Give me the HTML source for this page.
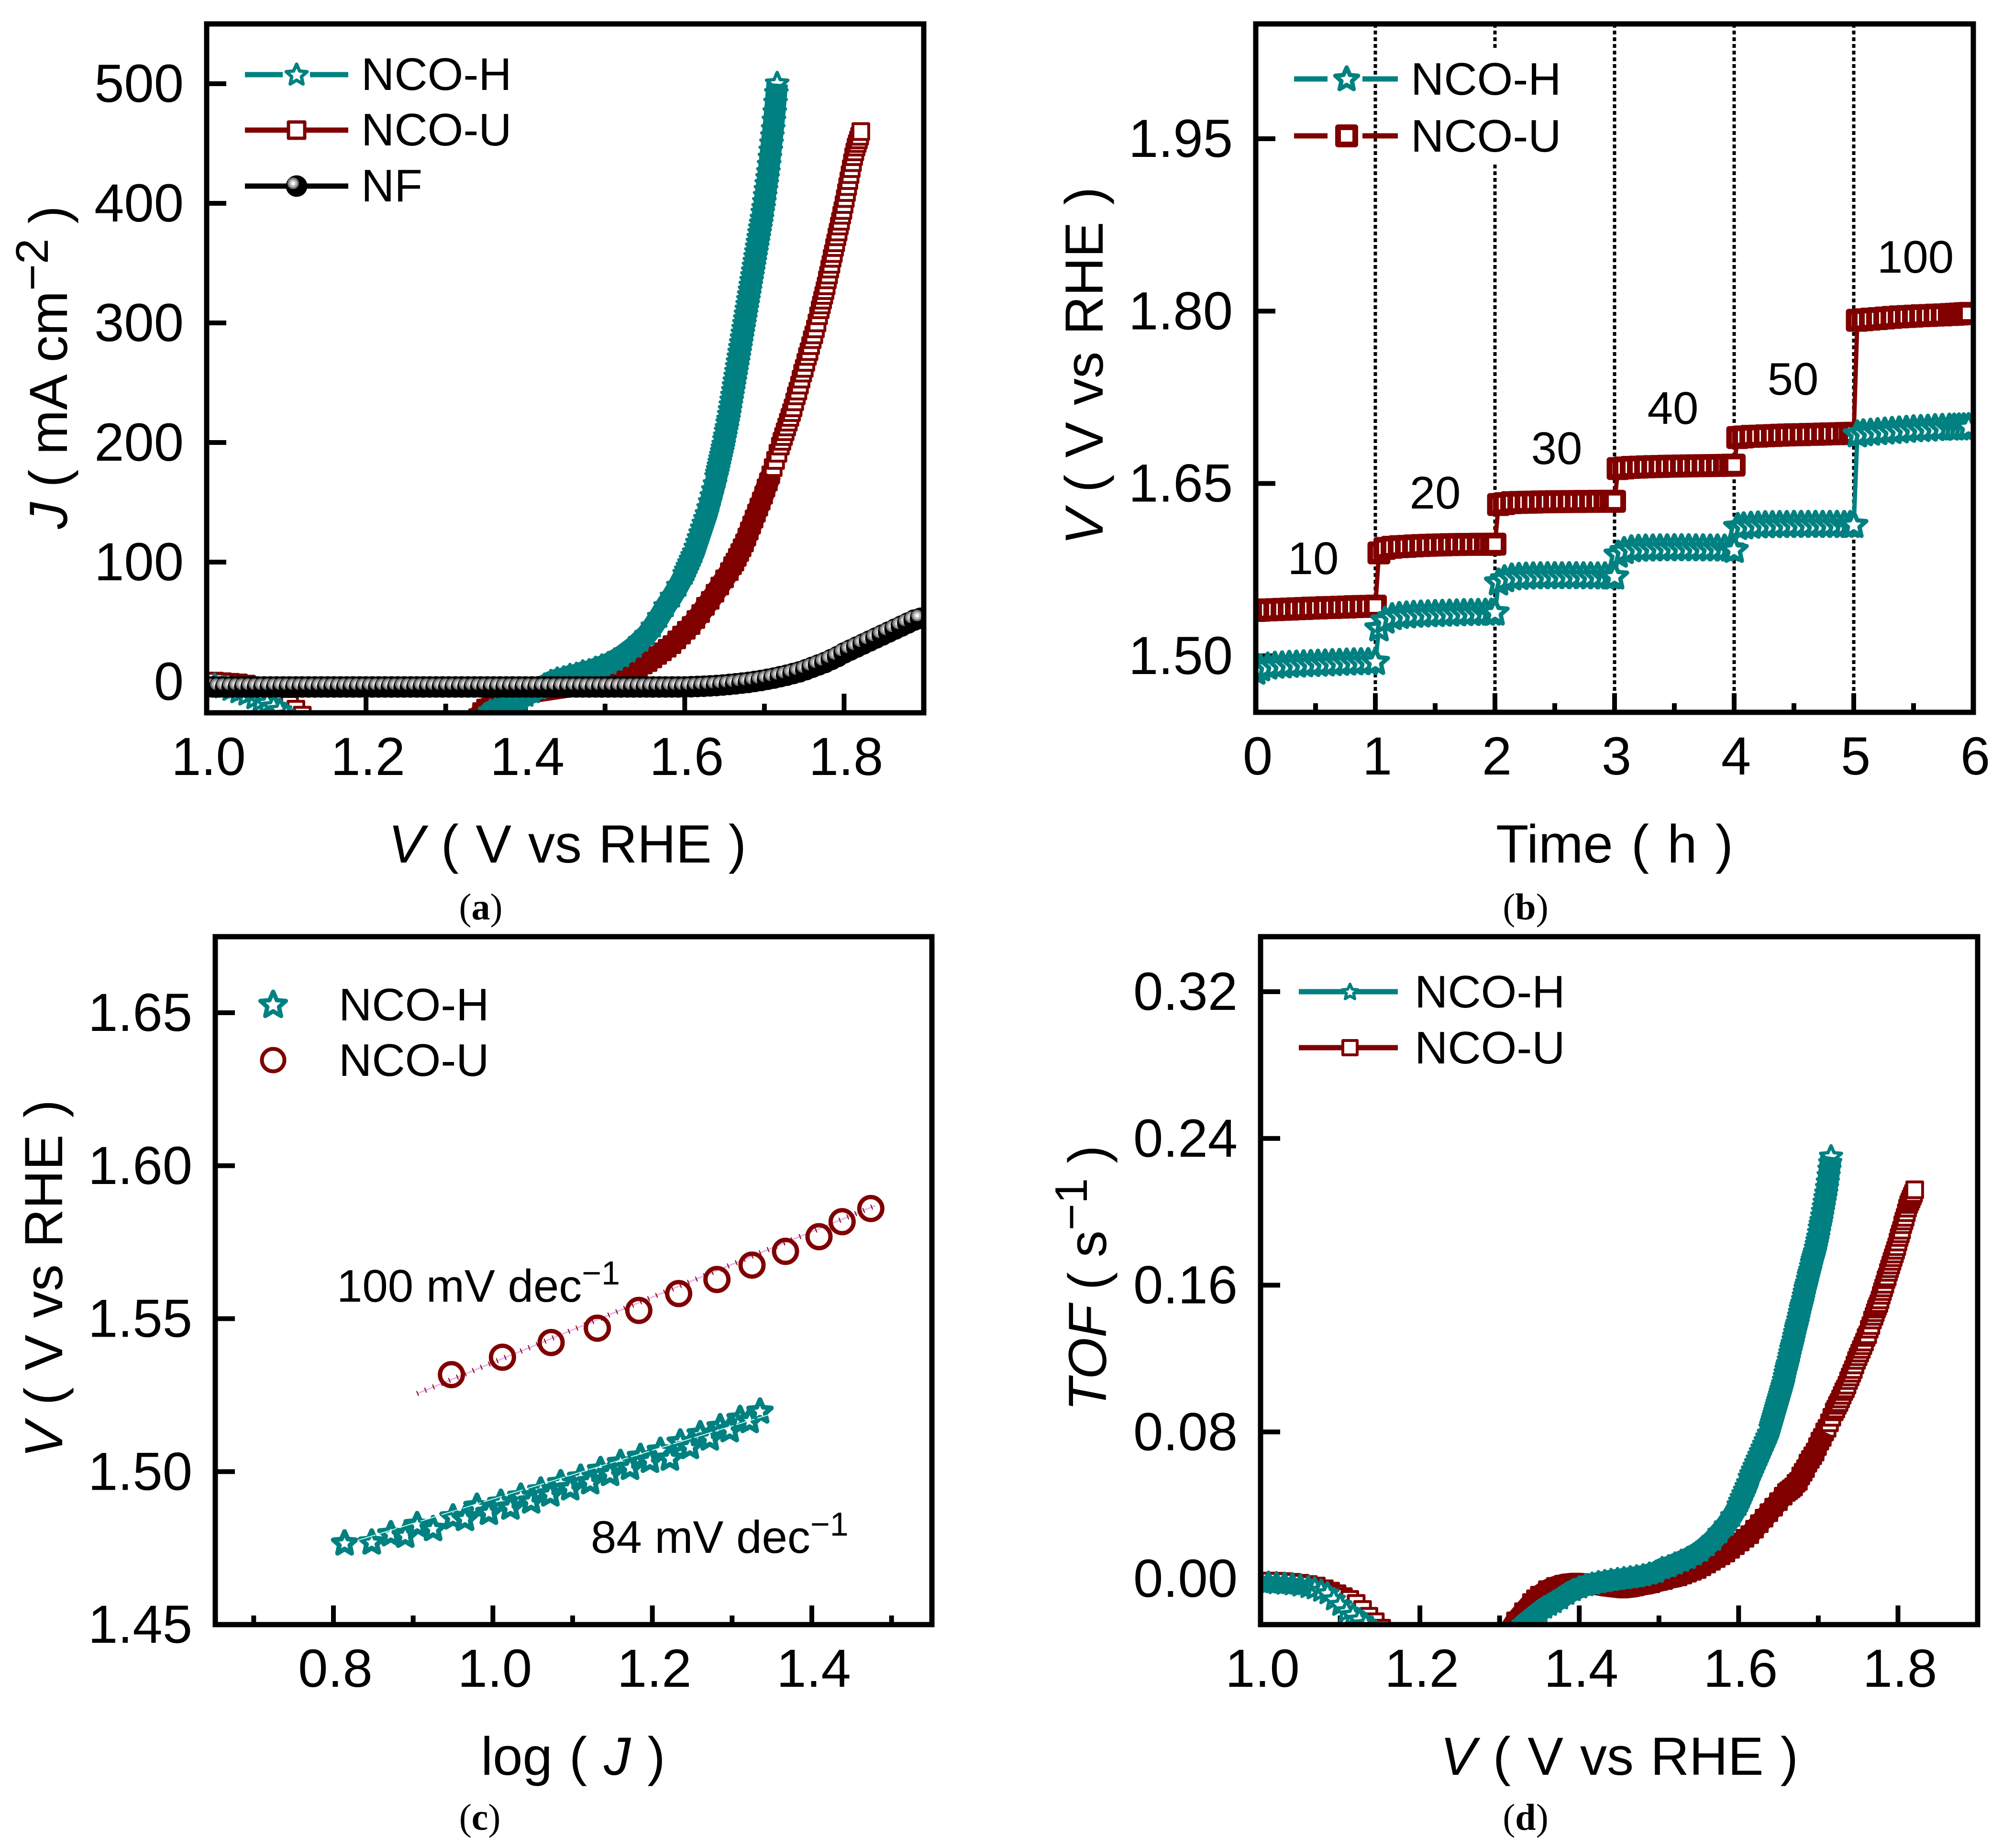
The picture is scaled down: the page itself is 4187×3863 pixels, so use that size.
<!DOCTYPE html>
<html lang="en">
<head>
<meta charset="utf-8">
<title>Electrochemical performance of NCO-H and NCO-U</title>
<style>
html,body{margin:0;padding:0;background:#fff}
svg{display:block}
text{font-family:"Liberation Sans",sans-serif;fill:#000}
.tick{font-size:112px}
.title{font-size:112px;word-spacing:4px}
.leg{font-size:96px}
.ann{font-size:96px}
.cap{font-family:"Liberation Serif",serif;font-size:78px;text-anchor:middle}
</style>
</head>
<body>
<svg id="figure" xmlns="http://www.w3.org/2000/svg" width="4187" height="3863" viewBox="0 0 4187 3863">
<rect width="4187" height="3863" fill="#fff"/>
<defs>
<radialGradient id="sphere" cx="0.34" cy="0.37" r="0.27">
<stop offset="0" stop-color="#ffffff"/><stop offset="0.33" stop-color="#f0f0f0"/><stop offset="0.36" stop-color="#c4c4c4"/><stop offset="0.68" stop-color="#b0b0b0"/><stop offset="0.71" stop-color="#808080"/><stop offset="0.98" stop-color="#707070"/><stop offset="1" stop-color="#000"/>
</radialGradient>
<clipPath id="clip-a"><rect x="432" y="50" width="1499" height="1440"/></clipPath>
<clipPath id="clip-b"><rect x="2625" y="50" width="1500" height="1439"/></clipPath>
<clipPath id="clip-c"><rect x="450" y="1958" width="1498" height="1438"/></clipPath>
<clipPath id="clip-d"><rect x="2635" y="1958" width="1499" height="1438"/></clipPath>
</defs>

<g id="panel-a"></g>
<g id="panel-b"></g>
<g id="panel-c"></g>
<g id="panel-d"></g>

<g id="legend-a">
<text class="leg" x="755" y="188">NCO-H</text>
<text class="leg" x="755" y="304">NCO-U</text>
<text class="leg" x="755" y="421">NF</text>
</g>
<g id="legend-b">
<rect x="2948" y="106" width="321" height="236" fill="#fff"/>
<text class="leg" x="2949" y="198">NCO-H</text>
<text class="leg" x="2949" y="317">NCO-U</text>
</g>
<g id="legend-c">
<text class="leg" x="708" y="2133">NCO-H</text>
<text class="leg" x="708" y="2249">NCO-U</text>
</g>
<g id="legend-d">
<text class="leg" x="2957" y="2106">NCO-H</text>
<text class="leg" x="2957" y="2223">NCO-U</text>
</g>

<text class="title" x="1186" y="1803" text-anchor="middle"><tspan font-style="italic">V</tspan> ( V vs RHE )</text>
<text class="title" text-anchor="middle" transform="translate(140,768) rotate(-90)" style="word-spacing:0"><tspan font-style="italic">J</tspan> ( mA cm<tspan font-size="96" dy="-40">−2</tspan><tspan dy="40"> )</tspan></text>

<text class="title" x="3375" y="1803" text-anchor="middle" style="word-spacing:7px">Time ( h )</text>
<text class="title" text-anchor="middle" transform="translate(2305,765) rotate(-90)"><tspan font-style="italic">V</tspan> ( V vs RHE )</text>
<text class="ann" x="2745" y="1200" text-anchor="middle">10</text>
<text class="ann" x="3000" y="1063" text-anchor="middle">20</text>
<text class="ann" x="3254" y="970" text-anchor="middle">30</text>
<text class="ann" x="3497" y="886" text-anchor="middle">40</text>
<text class="ann" x="3748" y="825" text-anchor="middle">50</text>
<text class="ann" x="4004" y="570" text-anchor="middle">100</text>

<text class="title" x="1198" y="3710" text-anchor="middle">log ( <tspan font-style="italic">J</tspan> )</text>
<text class="title" text-anchor="middle" transform="translate(130,2673) rotate(-90)"><tspan font-style="italic">V</tspan> ( V vs RHE )</text>
<text class="ann" x="704" y="2721">100 mV dec<tspan font-size="70" dy="-36">−1</tspan></text>
<text class="ann" x="1235" y="3246">84 mV dec<tspan font-size="70" dy="-36">−1</tspan></text>

<text class="title" x="3385" y="3710" text-anchor="middle"><tspan font-style="italic">V</tspan> ( V vs RHE )</text>
<text class="title" text-anchor="middle" transform="translate(2312,2672) rotate(-90)" style="word-spacing:0"><tspan font-style="italic">TOF</tspan> ( s<tspan font-size="96" dy="-40">−1</tspan><tspan dy="40"> )</tspan></text>

<text class="cap" x="1005" y="1922">(<tspan font-weight="bold">a</tspan>)</text>
<text class="cap" x="3189" y="1922">(<tspan font-weight="bold">b</tspan>)</text>
<text class="cap" x="1003" y="3825">(<tspan font-weight="bold">c</tspan>)</text>
<text class="cap" x="3189" y="3825">(<tspan font-weight="bold">d</tspan>)</text>
</svg>

<script>
// ---------- Data: panels (a) and (d), NCO-H ----------
const voltageGridH = [1.000,1.010,1.020,1.030,1.040,1.050,1.060,1.068,1.076,1.084,1.092,1.100,1.108,1.116,1.124,1.132,1.140,
1.320,1.330,1.340,1.350,1.356,1.362,1.368,
1.376,1.384,1.392,1.400,1.408,1.416,1.424,1.432,1.440,1.448,1.456,1.464,1.472,1.480,1.488,1.496,1.504,1.512,1.520,1.528,1.536,1.544,1.552,1.560,1.568,1.576,1.584,1.592,1.600,
1.602,1.604,1.606,1.608,1.610,1.612,1.614,1.616,1.618,1.620,1.622,1.624,1.626,1.628,1.630,1.632,1.634,1.636,1.638,
1.640,1.641,1.642,1.643,1.644,1.645,1.646,1.647,1.648,1.649,1.650,1.651,1.652,1.653,1.654,1.655,1.656,1.657,1.658,1.659,1.660,1.661,1.662,1.663,1.664,1.665,1.666,1.667,1.668,1.669,1.670,1.671,1.672,1.673,1.674,1.675,1.676,1.677,1.678,1.679,1.680,1.681,1.682,1.683,1.684,1.685,1.686,1.687,1.688,1.689,1.690,1.691,1.692,1.693,1.694,1.695,1.696,1.697,1.698,1.699,1.700,1.701,1.702,1.703,1.704,1.705,1.706,1.707,1.708,1.709,1.710,1.711,1.712,1.713,1.714,1.715,1.716];
const currentH = [-2,-3,-5,-7,-9,-11,-14,-16,-18,-21,-24,-28,-33,-40,-50,-60,-70,
-60,-50,-40,-30,-25,-24,-23,
-21,-18,-15,-12,-9,-6,-3,0,2,3,5,6,8,9,11,13,15,18,21,25,29,34,39,46,54,63,71,80,90,
93,96,99,102,105,108,112,116,120,124,128,132,136,140,145,150,155,160,165,
171,174,177,180,183,186,189,192,195,198,202,205,209,212,216,219,223,227,231,235,239,243,247,251,255,259,263,267,271,275,279,283,287,291,295,299,303,307,311,315,319,323,327,331,335,339,343,347,351,355,359,363,367,371,375,379,383,387,392,396,401,406,411,416,421,426,432,438,444,450,456,462,469,476,484,492,500];
const tofH = [-.0022,-.0024,-.0027,-.003,-.0033,-.004,-.0048,-.0055,-.0068,-.0082,-.0115,-.0145,-.018,-.02,-.0225,-.025,-.027,
-.03,-.025,-.0215,-.018,-.016,-.0145,-.013,
-.011,-.0085,-.0065,-.005,-.0038,-.003,-.0022,-.0016,-.001,-.0005,0,.0005,.001,.0016,.0025,.0035,.0055,.0065,.008,.0095,.011,.013,.015,.018,.021,.025,.029,.034,.040,
.042,.044,.046,.048,.050,.052,.055,.057,.059,.061,.063,.065,.067,.069,.071,.073,.075,.077,.079,
.082,.0835,.085,.0865,.088,.0895,.091,.0925,.094,.0955,.097,.0985,.100,.1015,.103,.1045,.106,.108,.110,.112,.114,.1155,.117,.119,.121,.123,.125,.1265,.128,.130,.132,.134,.136,.1375,.139,.141,.143,.145,.147,.1485,.150,.152,.154,.156,.158,.1595,.161,.163,.165,.1665,.168,.170,.172,.1735,.175,.1765,.178,.180,.182,.184,.186,.1885,.191,.193,.195,.1975,.200,.2025,.205,.2075,.21,.213,.216,.2195,.223,.2265,.23];

// ---------- Data: panels (a) and (d), NCO-U ----------
const voltageGridU = [1.00,1.01,1.02,1.03,1.04,1.05,1.06,1.07,1.08,1.088,1.096,1.104,1.112,1.12,1.128,1.136,1.144,1.152,1.16,1.168,1.176,1.184,
1.30,1.31,1.32,1.33,1.34,1.345,1.35,1.36,1.37,1.38,1.39,1.40,1.41,1.42,1.43,1.44,1.45,1.46,1.47,1.48,1.49,1.50,
1.506,1.512,1.518,1.524,1.53,1.536,1.542,1.548,1.554,1.56,1.566,1.572,1.578,1.584,1.59,1.596,1.602,1.608,1.614,1.62,1.626,1.632,1.638,1.644,1.65,1.656,
1.660,1.663,1.666,1.669,1.672,1.675,1.678,1.681,1.684,1.687,1.690,1.693,1.696,1.699,1.702,1.705,1.708,1.711,1.714,1.717,1.720,
1.722,1.724,1.726,1.728,1.730,1.732,1.734,1.736,1.738,1.740,1.742,1.744,1.746,1.748,1.750,1.752,1.754,1.756,1.758,1.760,1.762,1.764,1.766,1.768,1.770,
1.7715,1.773,1.7745,1.776,1.7775,1.779,1.7805,1.782,1.7835,1.785,1.7865,1.788,1.7895,1.791,1.7925,1.794,1.7955,1.797,1.7985,1.800,1.8015,1.803,1.8045,1.806,1.8075,1.809,1.8105,1.812,1.8135,1.815,1.8165,1.818,1.8195,1.821];
const currentU = [.5,.5,0,-.5,-1,-2,-4,-6,-9,-12,-15,-19,-23,-28,-33,-40,-47,-55,-60,-65,-70,-75,
-80,-70,-55,-42,-30,-25,-22,-18,-15,-13,-11,-10,-9,-8,-7,-6,-5,-4,-3,-2,-1,0,
1.5,3,4,6,8,10,12,14,16,19,22,25,28,31,35,39,43,47,52,57,63,68,74,80,86,92,
97,100,104,108,112,116,121,126,131,136,141,146,151,156,162,167,173,179,185,191,197,
201,205,209,213,217,221,225,229,234,239,243,248,253,258,262,267,272,276,281,286,290,295,300,306,311,
315,319,323,327,331,336,340,345,349,354,358,363,367,372,376,381,385,390,394,399,404,409,414,419,424,429,434,439,443,447,450,453,456,460];
const tofU = [-.0013,-.0013,-.0014,-.0016,-.002,-.0025,-.0032,-.004,-.0055,-.0068,-.0082,-.0098,-.0113,-.0135,-.0168,-.0205,-.0235,-.027,-.030,-.033,-.036,-.04,
-.04,-.03,-.023,-.018,-.013,-.011,-.009,-.006,-.0042,-.003,-.0025,-.0025,-.0028,-.0032,-.004,-.0045,-.005,-.005,-.0045,-.0035,-.0028,-.0015,
-.001,0,.0005,.001,.002,.003,.004,.005,.0065,.008,.0095,.011,.0125,.014,.016,.018,.02,.022,.024,.027,.03,.033,.036,.039,.042,.045,
.047,.048,.049,.050,.052,.053,.056,.058,.060,.063,.065,.067,.069,.072,.075,.077,.080,.082,.085,.088,.091,
.0925,.0945,.096,.098,.100,.102,.1035,.1055,.108,.110,.112,.114,.1165,.119,.121,.123,.125,.127,.129,.1315,.133,.136,.138,.141,.143,
.145,.147,.1485,.150,.152,.1545,.1565,.1585,.1605,.163,.1645,.167,.169,.171,.173,.175,.177,.179,.181,.1835,.186,.188,.190,.193,.195,.197,.1995,.202,.204,.2055,.207,.2085,.21,.212];

// ---------- Data: panel (a), bare nickel foam ----------
const voltageNF = [1.000,1.008,1.016,1.024,1.032,1.040,1.048,1.056,1.064,1.072,1.080,1.088,1.096,1.104,1.112,1.120,1.128,1.136,1.144,1.152,1.160,1.168,1.176,1.184,1.192,1.200,1.208,1.216,1.224,1.232,1.240,1.248,1.256,1.264,1.272,1.280,1.288,1.296,1.304,1.312,1.320,1.328,1.336,1.344,1.352,1.360,1.368,1.376,1.384,1.392,1.400,1.408,1.416,1.424,1.432,1.440,1.448,1.456,1.464,1.472,1.480,1.488,1.496,1.504,1.512,1.520,1.528,1.536,1.544,1.552,1.560,1.568,1.576,1.584,1.592,1.600,
1.608,1.616,1.624,1.632,1.640,1.648,1.656,1.664,1.672,1.680,1.688,1.696,1.704,1.712,1.720,1.728,1.736,1.744,1.752,1.760,1.768,1.776,1.784,1.792,1.800,1.808,1.816,1.824,1.832,1.840,1.848,1.856,1.864,1.872,1.880,1.888,1.896];
const currentNF = [-4.4,-4.4,-4.4,-4.4,-4.4,-4.4,-4.4,-4.4,-4.4,-4.4,-4.4,-4.4,-4.4,-4.4,-4.4,-4.4,-4.4,-4.4,-4.4,-4.4,-4.4,-4.4,-4.4,-4.4,-4.4,-4.4,-4.4,-4.4,-4.4,-4.4,-4.4,-4.4,-4.4,-4.4,-4.4,-4.4,-4.4,-4.4,-4.4,-4.4,-4.4,-4.4,-4.4,-4.4,-4.4,-4.4,-4.4,-4.4,-4.4,-4.4,-4.4,-4.4,-4.4,-4.4,-4.4,-4.4,-4.4,-4.4,-4.4,-4.4,-4.4,-4.4,-4.4,-4.4,-4.4,-4.4,-4.4,-4.4,-4.4,-4.4,-4.4,-4.4,-4.4,-4.4,-4.4,-4.4,
-4.2,-4,-3.8,-3.5,-3.2,-2.8,-2.3,-1.8,-1.2,-.6,.2,1,2,3,4.2,5.4,6.8,8.2,10,12,14,16,18.5,21,24,26.5,29,31.5,34,36.5,39,41.5,44,46.5,49,51.5,53];

// ---------- Data: panel (b) ----------
const timeGrid = [0,.04,.1,.16,.22,.28,.34,.4,.46,.52,.58,.64,.7,.76,.82,.88,.94,1,
1.03,1.08,1.14,1.2,1.26,1.32,1.38,1.44,1.5,1.56,1.62,1.68,1.74,1.8,1.86,1.92,1.97,2,
2.03,2.08,2.14,2.2,2.26,2.32,2.38,2.44,2.5,2.56,2.62,2.68,2.74,2.8,2.86,2.92,2.97,3,
3.03,3.08,3.14,3.2,3.26,3.32,3.38,3.44,3.5,3.56,3.62,3.68,3.74,3.8,3.86,3.92,3.97,4,
4.03,4.08,4.14,4.2,4.26,4.32,4.38,4.44,4.5,4.56,4.62,4.68,4.74,4.8,4.86,4.92,4.97,5,
5.03,5.08,5.14,5.2,5.26,5.32,5.38,5.44,5.5,5.56,5.62,5.68,5.74,5.8,5.84,5.88,5.92,5.96];
const potentialH = [1.486,1.489,1.4905,1.4912,1.4915,1.492,1.4922,1.4925,1.4927,1.493,1.4932,1.4935,1.4937,1.494,1.4942,1.4943,1.4944,1.4945,
1.5237,1.5305,1.5335,1.5345,1.535,1.5355,1.5358,1.536,1.5362,1.5364,1.5366,1.5368,1.537,1.5371,1.5372,1.5373,1.5374,1.5375,
1.5637,1.5665,1.568,1.5685,1.5688,1.569,1.5691,1.5692,1.5692,1.5691,1.5692,1.5692,1.5691,1.569,1.569,1.569,1.5689,1.5688,
1.5879,1.591,1.5925,1.593,1.5932,1.5933,1.5934,1.5934,1.5935,1.5935,1.5935,1.5934,1.5934,1.5933,1.5933,1.5932,1.5932,1.592,
1.612,1.6125,1.613,1.6133,1.6135,1.6136,1.6137,1.6137,1.6138,1.6138,1.6138,1.6138,1.6138,1.6138,1.6138,1.6137,1.6137,1.6137,
1.6925,1.6935,1.694,1.6945,1.695,1.6955,1.696,1.6965,1.697,1.6972,1.6975,1.698,1.6982,1.6984,1.6985,1.6986,1.6987,1.6988];
const potentialU = [1.5395,1.5397,1.54,1.5402,1.5405,1.5407,1.541,1.5412,1.5415,1.5417,1.542,1.5421,1.5423,1.5425,1.5428,1.543,1.5431,1.5433,
1.5896,1.5935,1.5945,1.595,1.5953,1.5957,1.596,1.5962,1.5964,1.5966,1.5968,1.5969,1.597,1.597,1.5971,1.5971,1.597,1.5972,
1.6317,1.6325,1.6333,1.6335,1.6337,1.6338,1.634,1.6341,1.6342,1.6342,1.6343,1.6343,1.6344,1.6344,1.6345,1.6345,1.6345,1.6345,
1.663,1.6635,1.664,1.6642,1.6645,1.6647,1.6648,1.665,1.6651,1.6652,1.6653,1.6654,1.6655,1.6656,1.6657,1.6658,1.6659,1.666,
1.69,1.6905,1.691,1.6912,1.6915,1.6917,1.692,1.6922,1.6924,1.6925,1.6927,1.6928,1.693,1.6932,1.6933,1.6935,1.6936,1.6937,
1.792,1.7925,1.793,1.7935,1.794,1.7945,1.795,1.7953,1.7956,1.796,1.7962,1.7965,1.7967,1.797,1.7972,1.7975,1.7978,1.798];
const stepTimes = [1,2,3,4,5];

// ---------- Data: panel (c) ----------
const logJH = [.814,.848,.872,.89,.905,.925,.95,.965,.98,.995,1.01,1.022,1.035,1.048,1.06,1.072,1.085,1.097,1.11,1.122,1.135,1.147,1.16,1.172,1.185,1.197,1.21,1.222,1.235,1.247,1.26,1.272,1.285,1.297,1.31,1.322,1.335];
const tafelH = [1.4765,1.4768,1.4795,1.479,1.4825,1.4812,1.485,1.4845,1.4885,1.4865,1.4898,1.4882,1.4918,1.4902,1.4938,1.4925,1.4962,1.4945,1.498,1.4965,1.5005,1.4992,1.5028,1.5012,1.5048,1.5035,1.5068,1.5042,1.5095,1.508,1.5122,1.5108,1.5145,1.5135,1.5172,1.5165,1.5196];
const logJU = [.948,1.012,1.073,1.131,1.183,1.233,1.281,1.325,1.367,1.409,1.438,1.474];
const tafelU = [1.5317,1.5374,1.5422,1.5469,1.5527,1.5582,1.5628,1.5675,1.572,1.5768,1.5817,1.586];
const fitLogJH = [.83,1.345];
const fitVH = [1.4775,1.5185];
const fitLogJU = [.905,1.48];
const fitVU = [1.5255,1.587];

// ---------- Data: tick labels ----------
const ticksAxJ = [0,100,200,300,400,500];
const ticksAxV = ['1.0','1.2','1.4','1.6','1.8'];
const minorAxV = [1.1,1.3,1.5,1.7];
const ticksBxT = ['0','1','2','3','4','5','6'];
const minorBxT = [.5,1.5,2.5,3.5,4.5,5.5];
const ticksByV = ['1.50','1.65','1.80','1.95'];
const ticksCxL = ['0.8','1.0','1.2','1.4'];
const minorCxL = [.7,.9,1.1,1.3,1.5];
const ticksCyV = ['1.45','1.50','1.55','1.60','1.65'];
const ticksDxV = ['1.0','1.2','1.4','1.6','1.8'];
const minorDxV = [1.1,1.3,1.5,1.7];
const ticksDyT = ['0.00','0.08','0.16','0.24','0.32'];

// ---------- Axis functions ----------
function linear(d0,p0,d1,p1){return function(v){return p0+(v-d0)*(p1-p0)/(d1-d0);};}
const TEAL='#008080', MAROON='#800000', NS='http://www.w3.org/2000/svg';
const panelA={g:document.getElementById('panel-a'),clip:'clip-a',l:432,r:1931,t:50,b:1490,x:linear(1,432,1.9,1931),y:linear(0,1425,500,175)};
const panelB={g:document.getElementById('panel-b'),clip:'clip-b',l:2625,r:4125,t:50,b:1489,x:linear(0,2625,6,4125),y:linear(1.5,1371,1.95,290)};
const panelC={g:document.getElementById('panel-c'),clip:'clip-c',l:450,r:1948,t:1958,b:3396,x:linear(.8,697,1.4,1697),y:linear(1.45,3396,1.65,2117)};
const panelD={g:document.getElementById('panel-d'),clip:'clip-d',l:2635,r:4134,t:1958,b:3396,x:linear(1,2635,1.9,4134),y:linear(0,3300,.32,2073)};

function svgEl(tag,parent){const e=document.createElementNS(NS,tag);parent.appendChild(e);return e;}
function starPath(cx,cy,R,r){
  let d='';
  for(let i=0;i<10;i++){
    const a=-Math.PI/2+i*Math.PI/5, q=i%2?r:R;
    d+=(i?'L':'M')+(cx+q*Math.cos(a)).toFixed(1)+' '+(cy+q*Math.sin(a)).toFixed(1);
  }
  return d+'Z';
}
function drawStar(parent,cx,cy,R,sw){
  const e=svgEl('path',parent);
  e.setAttribute('d',starPath(cx,cy,R,R*0.46));
  e.setAttribute('fill','#fff');
  e.setAttribute('stroke',TEAL);
  e.setAttribute('stroke-width',sw);
  e.setAttribute('stroke-linejoin','round');
  
  
  return e;
}
function drawSquare(parent,cx,cy,side,sw){
  const e=svgEl('rect',parent);
  e.setAttribute('x',cx-side/2);
  e.setAttribute('y',cy-side/2);
  e.setAttribute('width',side);
  e.setAttribute('height',side);
  e.setAttribute('fill','#fff');
  e.setAttribute('stroke',MAROON);
  e.setAttribute('stroke-width',sw);
  e.setAttribute('stroke-linejoin','round');
  
  
  return e;
}
function drawCircle(parent,cx,cy,r,sw){
  const e=svgEl('circle',parent);
  e.setAttribute('cx',cx);
  e.setAttribute('cy',cy);
  e.setAttribute('r',r);
  e.setAttribute('fill','none');
  e.setAttribute('stroke',MAROON);
  e.setAttribute('stroke-width',sw);
  
  
  return e;
}
function drawSphere(parent,cx,cy,r){
  const e=svgEl('circle',parent);
  e.setAttribute('cx',cx);
  e.setAttribute('cy',cy);
  e.setAttribute('r',r);
  e.setAttribute('fill','url(#sphere)');
  
  
  return e;
}
function drawSegment(parent,x1,y1,x2,y2,color,w){
  const e=svgEl('line',parent);
  e.setAttribute('x1',x1);
  e.setAttribute('y1',y1);
  e.setAttribute('x2',x2);
  e.setAttribute('y2',y2);
  e.setAttribute('stroke',color);
  e.setAttribute('stroke-width',w);
  
  
  return e;
}
function drawTickLabel(parent,x,y,str,anchor){
  const e=svgEl('text',parent);
  e.setAttribute('class','tick');
  e.setAttribute('x',x);
  e.setAttribute('y',y);
  e.setAttribute('text-anchor',anchor);
  
  
  e.textContent=str;
  return e;
}
function drawAxes(p,xMajor,xMinor,yMajor){
  const g=svgEl('g',p.g);
  
  
  xMajor.forEach(function(v){
    const px=p.x(parseFloat(v));
    const t=drawSegment(g,px,p.b,px,p.b-40,'#000',10);
    
    drawTickLabel(g,px+4,p.b+130,String(v),'middle');
  });
  xMinor.forEach(function(v){
    const px=p.x(v);
    const t=drawSegment(g,px,p.b,px,p.b-19,'#000',10);
    
  });
  yMajor.forEach(function(v){
    const py=p.y(parseFloat(v));
    const t=drawSegment(g,p.l,py,p.l+41,py,'#000',10);
    
    drawTickLabel(g,p.l-48,py+38,String(v),'end');
  });
}
function dataGroup(p,name){
  const g=svgEl('g',p.g);
  g.setAttribute('clip-path','url(#'+p.clip+')');
  
  
  return g;
}
function drawLine(g,p,xs,ys,color,w){
  const e=svgEl('polyline',g);
  e.setAttribute('points',xs.map(function(v,i){return p.x(v).toFixed(1)+','+p.y(ys[i]).toFixed(1);}).join(' '));
  e.setAttribute('fill','none');
  e.setAttribute('stroke',color);
  e.setAttribute('stroke-width',w);
  e.setAttribute('stroke-linejoin','round');
  
  
  return e;
}
// solid core of a densely overlapping marker band, drawn from the same series values
function drawBandCore(g,p,xs,ys,vMin,vMax,color,w){
  const keepX=[], keepY=[];
  xs.forEach(function(v,i){ if(v>=vMin && v<=vMax){ keepX.push(v); keepY.push(ys[i]); } });
  const e=drawLine(g,p,keepX,keepY,color,w);
  
  return e;
}
function drawFrame(p){
  const e=svgEl('rect',p.g);
  e.setAttribute('x',p.l);
  e.setAttribute('y',p.t);
  e.setAttribute('width',p.r-p.l);
  e.setAttribute('height',p.b-p.t);
  e.setAttribute('fill','none');
  e.setAttribute('stroke','#000');
  e.setAttribute('stroke-width',11);
  
  
}

// ---------- Panel (a) ----------
drawAxes(panelA,ticksAxV,minorAxV,ticksAxJ);
(function(){
  const u=dataGroup(panelA,'series-nco-u');
  drawLine(u,panelA,voltageGridU,currentU,MAROON,6);
  voltageGridU.forEach(function(v,i){drawSquare(u,panelA.x(v),panelA.y(currentU[i]),33,6);});
  drawBandCore(u,panelA,voltageGridU,currentU,1.3,1.71,MAROON,44);
  const h=dataGroup(panelA,'series-nco-h');
  drawLine(h,panelA,voltageGridH,currentH,TEAL,6);
  voltageGridH.forEach(function(v,i){drawStar(h,panelA.x(v),panelA.y(currentH[i]),23.5,7);});
  drawBandCore(h,panelA,voltageGridH,currentH,1.3,1.716,TEAL,45);
  const n=dataGroup(panelA,'series-nf');
  drawLine(n,panelA,voltageNF,currentNF,'#000',6);
  voltageNF.forEach(function(v,i){drawSphere(n,panelA.x(v),panelA.y(currentNF[i]),22.5);});
})();
drawFrame(panelA);

// ---------- Panel (b) ----------
(function(){
  const d=svgEl('g',panelB.g);
  
  
  stepTimes.forEach(function(t){
    const px=panelB.x(t);
    const l=drawSegment(d,px,panelB.t,px,panelB.b,'#000',7);
    l.setAttribute('stroke-dasharray','8 6');
    
  });
})();
drawAxes(panelB,ticksBxT,minorBxT,ticksByV);
(function(){
  const u=dataGroup(panelB,'series-nco-u');
  drawLine(u,panelB,timeGrid,potentialU,MAROON,9);
  timeGrid.forEach(function(t,i){drawSquare(u,panelB.x(t),panelB.y(potentialU[i]),36,12);});
  const h=dataGroup(panelB,'series-nco-h');
  drawLine(h,panelB,timeGrid,potentialH,TEAL,9);
  timeGrid.forEach(function(t,i){drawStar(h,panelB.x(t),panelB.y(potentialH[i]),27.5,9);});
})();
drawFrame(panelB);

// ---------- Panel (c) ----------
drawAxes(panelC,ticksCxL,minorCxL,ticksCyV);
(function(){
  const h=dataGroup(panelC,'series-nco-h');
  logJH.forEach(function(v,i){drawStar(h,panelC.x(v),panelC.y(tafelH[i]),25,10);});
  const fh=drawLine(h,panelC,fitLogJH,fitVH,'#c0fff0',2);
  fh.setAttribute('stroke-dasharray','40 6');
  
  const u=dataGroup(panelC,'series-nco-u');
  const fu=drawLine(u,panelC,fitLogJU,fitVU,'#e8b0f4',3);
  
  const fm=drawLine(u,panelC,fitLogJU,fitVU,MAROON,11);
  fm.setAttribute('stroke-dasharray','2 16');
  
  logJU.forEach(function(v,i){drawCircle(u,panelC.x(v),panelC.y(tafelU[i]),24,9);});
})();
drawFrame(panelC);

// ---------- Panel (d) ----------
drawAxes(panelD,ticksDxV,minorDxV,ticksDyT);
(function(){
  const u=dataGroup(panelD,'series-nco-u');
  drawLine(u,panelD,voltageGridU,tofU,MAROON,6);
  voltageGridU.forEach(function(v,i){drawSquare(u,panelD.x(v),panelD.y(tofU[i]),33,6);});
  drawBandCore(u,panelD,voltageGridU,tofU,1.3,1.71,MAROON,44);
  const h=dataGroup(panelD,'series-nco-h');
  drawLine(h,panelD,voltageGridH,tofH,TEAL,6);
  voltageGridH.forEach(function(v,i){drawStar(h,panelD.x(v),panelD.y(tofH[i]),23,7);});
  drawBandCore(h,panelD,voltageGridH,tofH,1.0,1.06,TEAL,30);
  drawBandCore(h,panelD,voltageGridH,tofH,1.3,1.716,TEAL,45);
})();
drawFrame(panelD);

// ---------- Legends ----------
(function(){
  const a=document.getElementById('legend-a');
  drawSegment(a,512,156,591,156,TEAL,11);
  drawSegment(a,648,156,728,156,TEAL,11);
  drawStar(a,620,157,23,7);
  drawSegment(a,512,272,728,272,MAROON,11);
  drawSquare(a,620,272,34,7);
  drawSegment(a,512,389,728,389,'#000',11);
  drawSphere(a,620,389,22.5);

  const b=document.getElementById('legend-b');
  drawSegment(b,2705,165,2775,165,TEAL,11);
  drawSegment(b,2848,165,2922,165,TEAL,11);
  drawStar(b,2815,166,25,9);
  drawSegment(b,2705,284,2775,284,MAROON,11);
  drawSegment(b,2848,284,2922,284,MAROON,11);
  drawSquare(b,2815,284,36,12);

  const c=document.getElementById('legend-c');
  drawStar(c,571,2101,28,9);
  drawCircle(c,571,2216,23.5,8);

  const d=document.getElementById('legend-d');
  drawSegment(d,2715,2073,2922,2073,TEAL,11);
  drawStar(d,2822,2074,17,6);
  drawSegment(d,2715,2190,2922,2190,MAROON,11);
  drawSquare(d,2822,2190,30,6);
})();
</script>
</body>
</html>
